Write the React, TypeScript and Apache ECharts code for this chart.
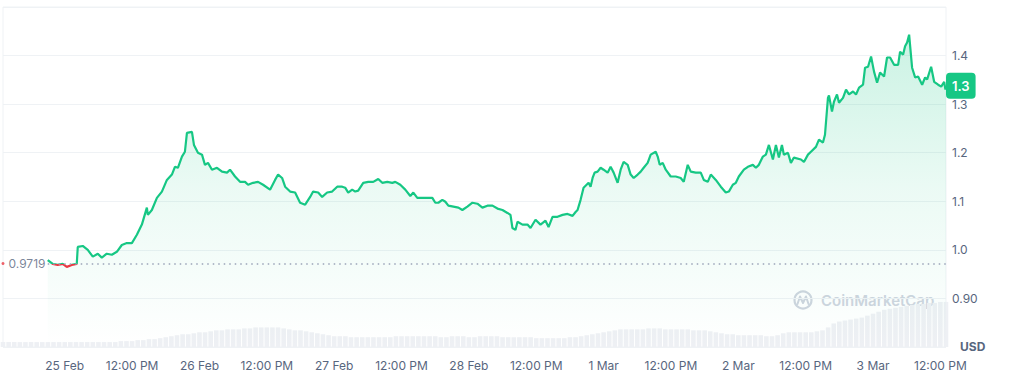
import React, { useEffect, useRef } from "react";
import * as echarts from "echarts";

// x axis: hours since 25 Feb 00:00
const X_MIN_HOUR = -11;
const X_MAX_HOUR = 157;
const X_LABEL_HOURS = [0, 12, 24, 36, 48, 60, 72, 84, 96, 108, 120, 132, 144, 156];
const X_LABELS = [
  "25 Feb", "12:00 PM", "26 Feb", "12:00 PM", "27 Feb", "12:00 PM", "28 Feb",
  "12:00 PM", "1 Mar", "12:00 PM", "2 Mar", "12:00 PM", "3 Mar", "12:00 PM",
];

const OPEN_PRICE = 0.9719;
const BADGE_LABEL = "1.3";

const HOURS = [
  -3.03, -2.14, -1.25, -0.36, 0.36, 1.25, 2.14, 2.32, 3.21, 4.10,
  5.00, 5.89, 6.60, 7.49, 8.39, 9.28, 10.17, 11.06, 11.96, 12.85,
  13.74, 14.63, 14.81, 15.52, 16.42, 17.31, 18.20, 19.09, 19.63, 20.16,
  20.88, 21.41, 21.77, 22.66, 23.02, 23.73, 24.45, 24.98, 25.52, 26.23,
  27.12, 28.02, 28.91, 29.44, 30.34, 31.23, 32.12, 32.66, 33.55, 34.44,
  35.33, 36.58, 37.47, 38.01, 38.72, 39.26, 40.15, 41.04, 41.93, 42.83,
  43.72, 44.25, 45.15, 45.86, 46.75, 47.64, 48.54, 49.43, 49.96, 50.50,
  51.21, 51.75, 52.28, 53.18, 54.07, 54.96, 55.85, 56.57, 57.46, 58.35,
  58.89, 59.78, 60.67, 61.56, 62.10, 62.81, 63.70, 64.60, 65.49, 66.02,
  66.56, 67.27, 67.81, 68.34, 69.24, 70.13, 70.84, 71.73, 72.63, 73.52,
  74.41, 75.30, 76.20, 77.09, 77.98, 78.87, 79.41, 79.76, 80.30, 80.66,
  81.55, 82.44, 82.98, 83.87, 84.76, 85.65, 86.19, 86.90, 87.79, 88.69,
  89.58, 90.47, 91.01, 91.36, 91.90, 92.43, 92.97, 93.33, 93.68, 94.04,
  94.40, 94.93, 95.47, 96.00, 96.72, 97.25, 97.79, 98.50, 99.04, 99.57,
  100.29, 100.82, 101.36, 102.07, 102.61, 103.14, 103.85, 104.39, 105.28, 105.64,
  106.00, 106.53, 107.07, 107.96, 108.85, 109.74, 110.28, 110.99, 111.53, 112.42,
  113.31, 113.85, 114.56, 115.10, 115.99, 116.88, 117.77, 118.31, 119.02, 119.56,
  120.09, 120.99, 121.70, 122.59, 123.13, 123.66, 124.38, 124.91, 125.45, 126.16,
  126.70, 127.23, 127.77, 128.12, 128.84, 129.37, 129.91, 131.16, 131.69, 132.41,
  132.94, 133.83, 134.37, 135.08, 135.44, 135.97, 136.15, 136.69, 137.04, 137.58,
  137.94, 138.65, 139.19, 139.72, 140.44, 140.97, 141.51, 142.22, 142.58, 143.11,
  143.65, 144.18, 144.72, 145.25, 145.97, 146.50, 147.04, 147.75, 148.47, 148.82,
  149.36, 149.71, 150.07, 150.43, 150.96, 151.50, 152.03, 152.75, 153.28, 153.64,
  154.35, 154.89, 155.60, 156.14, 156.68, 156.90, 157.00,
];

const PRICES = [
  0.979, 0.971, 0.969, 0.971, 0.965, 0.969, 0.971, 1.006, 1.008, 1.000,
  0.986, 0.992, 0.984, 0.992, 0.990, 0.996, 1.010, 1.014, 1.014, 1.031,
  1.052, 1.087, 1.072, 1.082, 1.107, 1.120, 1.144, 1.155, 1.171, 1.169,
  1.192, 1.202, 1.241, 1.243, 1.216, 1.200, 1.196, 1.175, 1.179, 1.165,
  1.169, 1.161, 1.159, 1.165, 1.151, 1.140, 1.140, 1.134, 1.138, 1.140,
  1.134, 1.124, 1.144, 1.155, 1.148, 1.130, 1.120, 1.118, 1.097, 1.093,
  1.109, 1.120, 1.118, 1.109, 1.118, 1.120, 1.130, 1.130, 1.128, 1.118,
  1.124, 1.120, 1.122, 1.138, 1.140, 1.140, 1.146, 1.138, 1.140, 1.138,
  1.140, 1.134, 1.124, 1.111, 1.118, 1.107, 1.107, 1.107, 1.107, 1.097,
  1.097, 1.103, 1.099, 1.091, 1.089, 1.087, 1.082, 1.089, 1.097, 1.095,
  1.087, 1.091, 1.091, 1.085, 1.082, 1.076, 1.072, 1.045, 1.041, 1.058,
  1.052, 1.052, 1.045, 1.062, 1.052, 1.060, 1.047, 1.068, 1.068, 1.072,
  1.074, 1.070, 1.078, 1.082, 1.103, 1.128, 1.134, 1.138, 1.130, 1.148,
  1.159, 1.161, 1.169, 1.165, 1.159, 1.171, 1.159, 1.138, 1.165, 1.181,
  1.175, 1.155, 1.148, 1.155, 1.161, 1.169, 1.179, 1.196, 1.202, 1.192,
  1.175, 1.179, 1.165, 1.151, 1.151, 1.148, 1.140, 1.175, 1.161, 1.159,
  1.159, 1.144, 1.140, 1.155, 1.144, 1.130, 1.118, 1.120, 1.134, 1.138,
  1.151, 1.165, 1.171, 1.175, 1.169, 1.175, 1.192, 1.196, 1.216, 1.186,
  1.216, 1.190, 1.216, 1.196, 1.200, 1.179, 1.190, 1.186, 1.181, 1.196,
  1.202, 1.212, 1.227, 1.221, 1.237, 1.313, 1.318, 1.285, 1.305, 1.320,
  1.303, 1.313, 1.330, 1.320, 1.326, 1.320, 1.334, 1.340, 1.375, 1.377,
  1.398, 1.367, 1.344, 1.365, 1.357, 1.396, 1.396, 1.381, 1.381, 1.408,
  1.402, 1.419, 1.427, 1.443, 1.375, 1.355, 1.357, 1.340, 1.355, 1.351,
  1.377, 1.346, 1.340, 1.336, 1.346, 1.330, 1.338,
];

// hourly volume (relative units), first bar at hour -11
const VOLUME_START_HOUR = -11;
const VOLUME = [
  5, 5, 5, 5, 5, 5, 5, 5, 5, 5, 5, 5, 5, 5, 5, 5, 5, 5, 5, 5, 5,
  6, 6, 6, 7, 7, 8, 8, 9, 10, 11, 12, 13, 13, 14, 15, 15, 16, 17, 17, 18,
  18, 18, 19, 19, 20, 20, 20, 20, 20, 19, 18, 17, 17, 16, 15, 14, 13, 12, 11,
  11, 11, 10, 10, 10, 10, 10, 10, 10, 10, 11, 11, 11, 11, 11, 11, 11, 11, 10,
  10, 11, 11, 11, 10, 10, 11, 11, 11, 11,
  10, 10, 10, 10, 10, 10, 9, 9, 9, 9, 9, 9, 10, 10, 11, 12,
  13, 14, 15, 16, 17, 18,
  18, 18, 18, 18, 19, 19, 19, 18, 18, 18, 18, 18, 17, 17, 17, 16,
  15, 14, 13, 13, 12, 12, 12, 12, 12, 11, 11, 12,
  14, 15, 15, 15, 15, 15, 16, 17, 20, 24, 26, 27, 28, 29, 30, 32, 34, 36, 38,
  39, 40, 41, 42, 43, 44, 44, 45, 45, 46, 46,
];

const GREEN = "#16c784";
const RED = "#ea3943";
const LABEL_GRAY = "#58667e";
const GRID_GRAY = "#eff2f5";
const FONT = 'Inter, "Noto Sans", sans-serif';

export default function App() {
  const ref = useRef<HTMLDivElement>(null);

  useEffect(() => {
    const chart = echarts.init(ref.current as HTMLDivElement, null, { renderer: "svg" });
    const priceData = HOURS.map((h, i) => [h, PRICES[i]]);
    const volData = VOLUME.map((v, i) => [VOLUME_START_HOUR + i, v]);
    const lastPrice = PRICES[PRICES.length - 1];

    chart.setOption({
      animation: false,
      textStyle: { fontFamily: FONT },
      grid: [
        { left: 3, right: 67, top: 7, bottom: 29, show: true, borderColor: GRID_GRAY, borderWidth: 1, backgroundColor: "transparent" },
        { left: 3, right: 67, top: 298, bottom: 29 },
      ],
      xAxis: [
        {
          type: "value",
          gridIndex: 0,
          min: X_MIN_HOUR,
          max: X_MAX_HOUR,
          axisLine: { show: false },
          axisTick: { show: false },
          splitLine: { show: false },
          axisLabel: {
            customValues: X_LABEL_HOURS,
            formatter: (v: number) => {
              const i = X_LABEL_HOURS.indexOf(Math.round(v));
              return i >= 0 ? X_LABELS[i] : "";
            },
            color: LABEL_GRAY,
            fontSize: 12,
            margin: 12,
          },
        },
        { type: "value", gridIndex: 1, min: X_MIN_HOUR, max: X_MAX_HOUR, show: false },
      ],
      yAxis: [
        {
          type: "value",
          gridIndex: 0,
          position: "right",
          min: 0.8,
          max: 1.5,
          interval: 0.1,
          axisLine: { show: false },
          axisTick: { show: false },
          splitLine: { lineStyle: { color: GRID_GRAY, width: 1 } },
          axisLabel: {
            color: LABEL_GRAY,
            fontSize: 12,
            margin: 6,
            formatter: (v: number) => {
              const r = Math.round(v * 10) / 10;
              if (r <= 0.8 || r >= 1.5) return "";
              return r < 1 ? r.toFixed(2) : r.toFixed(1);
            },
          },
        },
        {
          type: "value",
          gridIndex: 0,
          position: "right",
          min: 0.8,
          max: 1.5,
          axisLine: { show: false },
          axisTick: { show: false },
          splitLine: { show: false },
          axisLabel: {
            customValues: [lastPrice],
            formatter: () => BADGE_LABEL,
            color: "#ffffff",
            fontSize: 13,
            lineHeight: 13,
            fontWeight: 600,
            backgroundColor: GREEN,
            borderRadius: 4,
            padding: [7, 6, 6, 6],
            margin: 0,
          },
        },
        { type: "value", gridIndex: 1, min: 0, max: 50, show: false },
      ],
      visualMap: {
        type: "piecewise",
        show: false,
        seriesIndex: 0,
        dimension: 1,
        pieces: [
          { gte: 0, lt: OPEN_PRICE, color: RED },
          { gte: OPEN_PRICE, lte: 10, color: GREEN },
        ],
      },
      series: [
        {
          type: "line",
          xAxisIndex: 0,
          yAxisIndex: 0,
          data: priceData,
          showSymbol: false,
          symbol: "none",
          z: 3,
          lineStyle: { width: 2.2 },
          areaStyle: {
            origin: "start",
            color: new echarts.graphic.LinearGradient(0, 0, 0, 1, [
              { offset: 0, color: "rgba(22,199,132,0.32)" },
              { offset: 0.5, color: "rgba(22,199,132,0.12)" },
              { offset: 1, color: "rgba(22,199,132,0.0)" },
            ]),
          },
          markLine: {
            silent: true,
            symbol: "none",
            label: { show: false },
            lineStyle: { color: "#9aa4b8", type: [1.5, 4], width: 1.5 },
            data: [[{ coord: [HOURS[0], OPEN_PRICE] }, { coord: [X_MAX_HOUR, OPEN_PRICE] }]],
          },
        },
        {
          type: "scatter",
          xAxisIndex: 0,
          yAxisIndex: 0,
          data: [[X_MIN_HOUR, OPEN_PRICE]],
          symbolSize: 3,
          itemStyle: { color: RED },
          silent: true,
          z: 4,
          label: {
            show: true,
            position: "right",
            distance: 4,
            formatter: () => String(OPEN_PRICE),
            color: LABEL_GRAY,
            fontSize: 12,
          },
        },
        {
          type: "bar",
          xAxisIndex: 1,
          yAxisIndex: 2,
          data: volData,
          barWidth: 4.6,
          z: 1,
          silent: true,
          itemStyle: { color: "#eef0f4" },
        },
      ],
      graphic: [
        {
          type: "text",
          left: 960,
          top: 340,
          z: 100,
          style: { text: "USD", fill: LABEL_GRAY, font: `bold 12px ${FONT}` },
        },
        {
          type: "group",
          z: 100,
          silent: true,
          children: [
            {
              type: "circle",
              shape: { cx: 803, cy: 300, r: 8.5 },
              style: { fill: "none", stroke: "#cfd5df", lineWidth: 2.2 },
            },
            {
              type: "polyline",
              shape: { points: [[797.5, 304], [800, 296.5], [803, 303], [806, 296.5], [808.5, 304]] },
              style: { fill: "none", stroke: "#cfd5df", lineWidth: 2, lineJoin: "round", lineCap: "round" },
            },
            {
              type: "text",
              x: 821,
              y: 300,
              style: {
                text: "CoinMarketCap",
                fill: "#cfd5df",
                font: `600 15px ${FONT}`,
                verticalAlign: "middle",
                textAlign: "left",
              },
            },
          ],
        },
      ],
    });

    return () => chart.dispose();
  }, []);

  return (
    <div
      ref={ref}
      style={{ position: "absolute", left: 0, top: 0, width: 1013, height: 376, background: "#ffffff" }}
    />
  );
}
